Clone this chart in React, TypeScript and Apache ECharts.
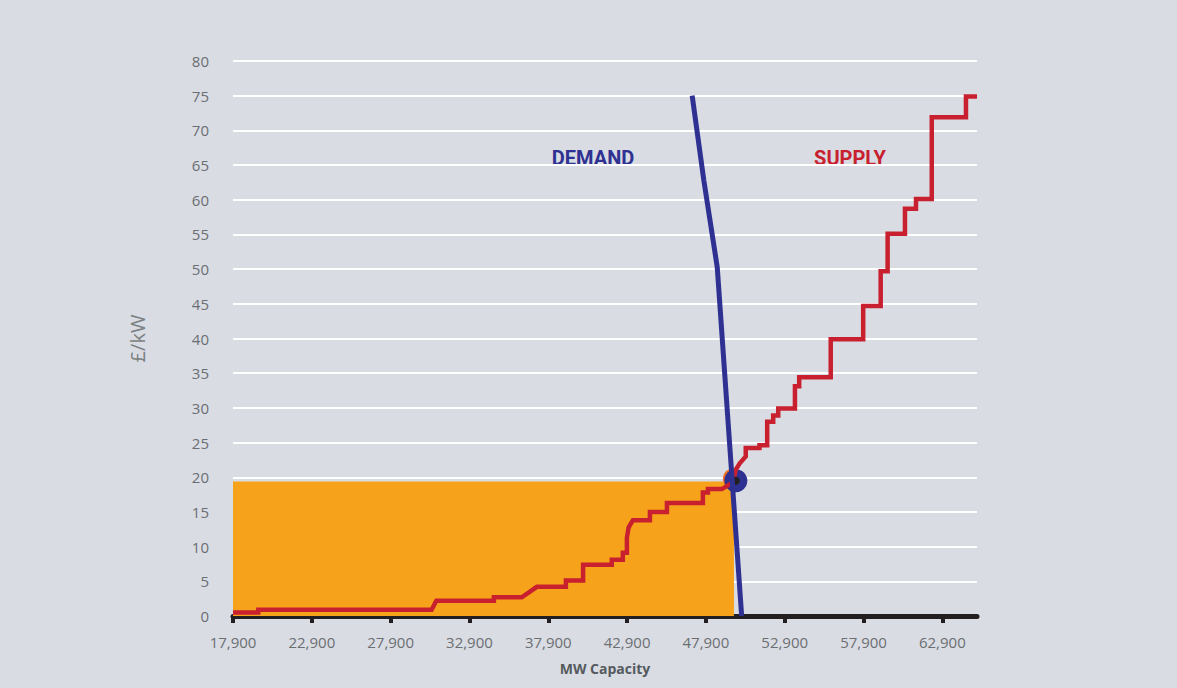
import React, { useEffect, useRef } from 'react';
import * as echarts from 'echarts';

// ---- Data ----
const xTickValues = [17900, 22900, 27900, 32900, 37900, 42900, 47900, 52900, 57900, 62900];
const xMin = 17900;
const xMax = 65100;
const yMin = 0;
const yMax = 80;
const yStep = 5;

// Supply curve vertices [MW, £/kW]
const supplyPoints: [number, number][] = [
  [17900, 0.5], [19500, 0.5], [19500, 0.9], [30500, 0.9], [30800, 2.2],
  [34450, 2.2], [34450, 2.7], [36220, 2.7], [37180, 4.2], [39020, 4.2],
  [39020, 5.1], [40110, 5.1], [40110, 7.4], [41930, 7.4], [41930, 8.1],
  [42630, 8.1], [42630, 9.1], [42890, 9.1], [42890, 11.3], [43000, 12.8],
  [43270, 13.8], [44350, 13.8], [44350, 15.0], [45430, 15.0], [45430, 16.3],
  [47710, 16.3], [47710, 17.8], [48030, 17.8], [48030, 18.3], [48920, 18.3],
  [49620, 19.3], [49800, 21.1], [50050, 22.0], [50430, 23.0], [50430, 24.2],
  [51300, 24.2], [51300, 24.6], [51790, 24.6], [51790, 28.0], [52170, 28.0],
  [52170, 28.9], [52490, 28.9], [52490, 29.9], [53550, 29.9], [53550, 33.1],
  [53820, 33.1], [53820, 34.4], [55820, 34.4], [55820, 39.9], [57880, 39.9],
  [57880, 44.7], [58990, 44.7], [58990, 49.7], [59430, 49.7], [59430, 55.1],
  [60530, 55.1], [60530, 58.7], [61230, 58.7], [61230, 60.1], [62230, 60.1],
  [62230, 71.9], [64400, 71.9], [64400, 74.9], [65100, 74.9],
];

// Demand curve vertices [MW, £/kW]
const demandPoints: [number, number][] = [
  [47030, 75], [47770, 62.8], [48620, 50.3], [50170, 0],
];

// Clearing result
const clearingPrice = 19.4;
const clearingCapacity = 49680;
const intersectionPoint: [number, number] = [49800, 19.5];

const labelColor = '#6b6f72';
const fontFamily = '"Open Sans", sans-serif';

export default function App() {
  const ref = useRef<HTMLDivElement>(null);

  useEffect(() => {
    document.body.style.margin = '0';
    if (!ref.current) return;
    const chart = echarts.init(ref.current, null, { renderer: 'svg' });
    chart.setOption({
      animation: false,
      backgroundColor: '#d9dce3',
      textStyle: { fontFamily },
      grid: { left: 233, right: 200, top: 61, bottom: 72 },
      xAxis: {
        type: 'value',
        min: xMin,
        max: xMax,
        name: 'MW Capacity',
        nameLocation: 'middle',
        nameGap: 45,
        nameTextStyle: { fontSize: 14, fontWeight: 'bold', color: '#555a5e', fontFamily },
        axisLine: { show: true, onZero: true, lineStyle: { color: '#231f20', width: 5 } },
        axisTick: {
          show: true,
          customValues: xTickValues,
          length: 7,
          lineStyle: { color: '#231f20', width: 4 },
        },
        axisLabel: {
          customValues: xTickValues,
          color: labelColor,
          fontSize: 15,
          margin: 18,
          fontFamily,
          formatter: (v: number) => v.toLocaleString('en-US'),
        },
        splitLine: { show: false },
      },
      yAxis: {
        type: 'value',
        min: yMin,
        max: yMax,
        interval: yStep,
        name: '£/kW',
        nameLocation: 'middle',
        nameGap: 86,
        nameRotate: 90,
        nameTextStyle: { fontSize: 20, color: '#7b7f82', fontFamily },
        axisLine: { show: false },
        axisTick: { show: false },
        axisLabel: { color: labelColor, fontSize: 15, margin: 24, fontFamily },
        splitLine: { show: true, lineStyle: { color: '#ffffff', width: 2 } },
      },
      graphic: [
        {
          type: 'text',
          x: 593,
          y: 158,
          style: {
            text: 'DEMAND',
            fill: '#2e3192',
            font: 'bold 20px Roboto, sans-serif',
            align: 'center',
            verticalAlign: 'middle',
          },
        },
        {
          type: 'text',
          x: 850,
          y: 158,
          style: {
            text: 'SUPPLY',
            fill: '#c8202f',
            font: 'bold 20px Roboto, sans-serif',
            align: 'center',
            verticalAlign: 'middle',
          },
        },
      ],
      series: [
        {
          type: 'line',
          name: 'cleared',
          data: [[xMin, clearingPrice], [clearingCapacity, clearingPrice]],
          symbol: 'none',
          lineStyle: { width: 0 },
          areaStyle: { color: '#f7a21b', opacity: 1 },
          silent: true,
          z: 1,
        },
        {
          type: 'scatter',
          data: [intersectionPoint],
          symbol: 'circle',
          symbolSize: 20,
          symbolOffset: [-3, -2],
          itemStyle: { color: '#ef6c23', opacity: 1 },
          silent: true,
          z: 2,
        },
        {
          type: 'scatter',
          data: [intersectionPoint],
          symbol: 'circle',
          symbolSize: 23,
          itemStyle: { color: '#2e3192', opacity: 1 },
          silent: true,
          z: 3,
        },
        {
          type: 'line',
          name: 'Supply',
          data: supplyPoints,
          symbol: 'none',
          lineStyle: { color: '#c8202f', width: 4.5, join: 'miter' },
          silent: true,
          z: 4,
        },
        {
          type: 'scatter',
          data: [intersectionPoint],
          symbol: 'circle',
          symbolSize: 8,
          itemStyle: { color: '#231f20', opacity: 1 },
          silent: true,
          z: 5,
        },
        {
          type: 'line',
          name: 'Demand',
          data: demandPoints,
          symbol: 'none',
          lineStyle: { color: '#2e3192', width: 5 },
          silent: true,
          z: 6,
        },
      ],
    });
    return () => chart.dispose();
  }, []);

  return <div ref={ref} style={{ width: 1177, height: 688 }} />;
}
